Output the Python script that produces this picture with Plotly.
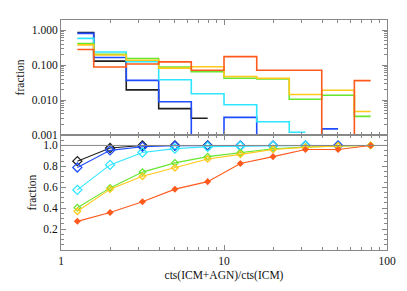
import numpy as np
import plotly.graph_objects as go
from plotly.subplots import make_subplots

# bin centres (ratio of counts)
x_centers = [1.26, 2.0, 3.16, 5.0, 7.94, 12.6, 20.0, 31.6, 50.1, 79.4]

# differential fractions (top panel)
frac_black = [0.86, 0.13, 0.0195, 0.0057, 0.0030]
frac_blue = [0.81, 0.165, 0.0365, 0.0089, 0.0, 0.0032, 0.0, 0.0, 0.0015]
frac_cyan = [0.58, 0.238, 0.125, 0.038, 0.0151, 0.0073, 0.0024, 0.0012]
frac_green = [0.41, 0.205, 0.155, 0.088, 0.065, 0.042, 0.040, 0.0105, 0.0137, 0.0034]
frac_yellow = [0.38, 0.195, 0.138, 0.082, 0.090, 0.047, 0.042, 0.0144, 0.019, 0.0047]
frac_orange = [0.28, 0.088, 0.107, 0.124, 0.071, 0.175, 0.071, 0.071, 0.0, 0.036]

# cumulative fractions (bottom panel)
cum_black = [0.85, 0.975, 1.0, 1.0, 1.0]
cum_blue = [0.79, 0.953, 0.988, 0.997, 0.997, 0.999, 0.999, 0.999, 1.0]
cum_cyan = [0.575, 0.814, 0.932, 0.970, 0.988, 0.995, 0.998, 1.0]
cum_green = [0.405, 0.594, 0.745, 0.833, 0.893, 0.930, 0.969, 0.985, 0.995, 1.0]
cum_yellow = [0.371, 0.582, 0.705, 0.786, 0.871, 0.915, 0.962, 0.982, 0.995, 1.0]
cum_orange = [0.274, 0.358, 0.462, 0.582, 0.654, 0.827, 0.893, 0.962, 0.962, 1.0]

top_ticks = [0.001, 0.01, 0.1, 1.0]
top_ticktext = ["0.001", "0.010", "0.100", "1.000"]
bot_ticks = [0.2, 0.4, 0.6, 0.8, 1.0]
bot_ticktext = ["0.2", "0.4", "0.6", "0.8", "1.0"]
x_ticks = [1, 10, 100]
x_ticktext = ["1", "10", "100"]
ref_level = 1.0
floor_val = 0.001

series = [
    ("black", "#202020", frac_black, cum_black, 7, "diamond-open"),
    ("blue", "#1e4cff", frac_blue, cum_blue, 7, "diamond-open"),
    ("cyan", "#2ee6ff", frac_cyan, cum_cyan, 7, "diamond-open"),
    ("green", "#66e62e", frac_green, cum_green, 5, "diamond-open"),
    ("yellow", "#ffc81a", frac_yellow, cum_yellow, 5, "diamond-open"),
    ("orange", "#ff5a1e", frac_orange, cum_orange, 4, "diamond"),
]

fig = make_subplots(rows=2, cols=1, shared_xaxes=False, vertical_spacing=0.0)

for name, col, fr, cu, ms, sym in series:
    n = len(fr)
    yv = np.maximum(np.array(fr, dtype=float), floor_val)
    fig.add_trace(go.Scatter(x=x_centers[:n], y=yv, mode="lines",
                             line=dict(color=col, width=1.6, shape="hvh"),
                             showlegend=False), row=1, col=1)
for name, col, fr, cu, ms, sym in series:
    n = len(cu)
    fig.add_trace(go.Scatter(x=x_centers[:n], y=cu, mode="lines+markers",
                             line=dict(color=col, width=1.1),
                             marker=dict(symbol=sym, size=ms, color=col,
                                         line=dict(color=col, width=1.3)),
                             showlegend=False), row=2, col=1)

fig.add_hline(y=ref_level, line=dict(color="#888888", width=1), row=2, col=1)

font = dict(family="Liberation Serif, Times New Roman, serif", size=11.5, color="#111111")
axcommon = dict(showline=True, linecolor="#888888", linewidth=1, mirror="allticks",
                ticks="inside", tickcolor="#888888", showgrid=False, zeroline=False)

fig.update_xaxes(type="log", range=[0, 2], tickvals=x_ticks, ticktext=x_ticktext,
                 ticklen=5, minor=dict(ticks="inside", dtick="D1", ticklen=3, tickcolor="#888888"),
                 **axcommon)
fig.update_xaxes(showticklabels=False, row=1, col=1)
fig.update_xaxes(title=dict(text="cts(ICM+AGN)/cts(ICM)", font=font, standoff=5), row=2, col=1)

fig.update_yaxes(type="log", range=[-3, 0.29], tickvals=top_ticks, ticktext=top_ticktext,
                 ticklen=5, minor=dict(ticks="inside", dtick="D1", ticklen=3, tickcolor="#888888"),
                 title=dict(text="fraction", font=font, standoff=4), row=1, col=1, **axcommon)
fig.update_yaxes(range=[0, 1.1], tickvals=bot_ticks, ticktext=bot_ticktext, ticklen=5,
                 minor=dict(ticks="inside", dtick=0.05, ticklen=3, tickcolor="#888888"),
                 title=dict(text="fraction", font=font, standoff=4), row=2, col=1, **axcommon)

fig.update_layout(width=399, height=283, margin=dict(l=53, r=19, t=11, b=39),
                  paper_bgcolor="white", plot_bgcolor="white", font=font)

fig.write_html("out.html")
